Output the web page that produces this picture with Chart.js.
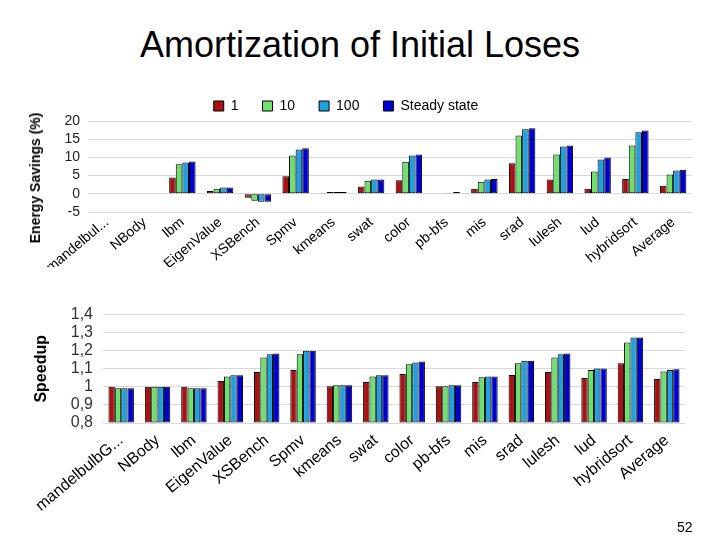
<!DOCTYPE html>
<html>
<head>
<meta charset="utf-8">
<script src="https://cdn.jsdelivr.net/npm/chart.js@4"></script>
<style>
  body { margin: 0; background: #fff; font-family: "Liberation Sans", Arial, sans-serif; }
  #page { position: relative; width: 720px; height: 540px; overflow: hidden; }
  #title { position: absolute; left: 0; top: 24px; width: 720px; text-align: center; font-size: 36px; color: #000; }
  #top-box { position: absolute; left: 0; top: 75px; width: 720px; height: 192px; }
  #bottom-box { position: absolute; left: 0; top: 295px; width: 720px; height: 240px; }
  #pagenum { position: absolute; left: 677px; top: 519px; font-size: 14px; color: #000; }
  #energy-title { position: absolute; left: 35px; top: 178px; font-size: 14px; font-weight: bold; color: #000;
    white-space: nowrap; transform: translate(-50%, -50%) rotate(-90deg); }
</style>
</head>
<body>
<div id="page">
  <div id="title">Amortization of Initial Loses</div>
  <div id="top-box"><canvas id="energy"></canvas></div>
  <div id="bottom-box"><canvas id="speedup"></canvas></div>
  <div id="energy-title">Energy Savings (%)</div>
  <div id="pagenum">52</div>
</div>
<script>
const seriesNames = ['1', '10', '100', 'Steady state'];
const seriesColors = ['#AA1111', '#6EE06E', '#20A0E0', '#0000D2'];

const energyLabels = ['mandelbul...', 'NBody', 'lbm', 'EigenValue', 'XSBench', 'Spmv', 'kmeans', 'swat',
  'color', 'pb-bfs', 'mis', 'srad', 'lulesh', 'lud', 'hybridsort', 'Average'];
const speedupLabels = ['mandelbulbG...', 'NBody', 'lbm', 'EigenValue', 'XSBench', 'Spmv', 'kmeans', 'swat',
  'color', 'pb-bfs', 'mis', 'srad', 'lulesh', 'lud', 'hybridsort', 'Average'];

// energy savings (%)
const energy1 = [-0.1, 0, 4.5, 0.8, -1.1, 4.8, 0.3, 2.0, 3.7, 0, 1.4, 8.4, 3.9, 1.4, 4.1, 2.2];
const energy10 = [-0.1, 0, 8.1, 1.4, -1.9, 10.5, 0.5, 3.6, 8.8, 0.1, 3.3, 16.0, 10.8, 6.1, 13.3, 5.3];
const energy100 = [-0.1, 0, 8.6, 1.7, -2.2, 12.2, 0.5, 3.9, 10.5, 0.3, 3.9, 17.7, 13.0, 9.4, 16.9, 6.4];
const energySteady = [-0.1, 0, 8.9, 1.7, -2.2, 12.5, 0.5, 3.9, 10.8, 0.5, 4.1, 18.0, 13.3, 10.0, 17.4, 6.6];

// speedup
const speedup1 = [1.0, 1.0, 1.0, 1.033, 1.082, 1.093, 1.004, 1.027, 1.071, 1.004, 1.027, 1.065, 1.082, 1.049, 1.131, 1.044];
const speedup10 = [0.993, 1.0, 0.993, 1.058, 1.162, 1.18, 1.009, 1.058, 1.125, 1.004, 1.053, 1.131, 1.162, 1.093, 1.245, 1.085];
const speedup100 = [0.993, 1.0, 0.993, 1.064, 1.18, 1.2, 1.009, 1.064, 1.135, 1.009, 1.058, 1.145, 1.18, 1.102, 1.273, 1.093];
const speedupSteady = [0.993, 1.0, 0.993, 1.064, 1.185, 1.2, 1.009, 1.064, 1.14, 1.009, 1.058, 1.145, 1.185, 1.102, 1.273, 1.098];

Chart.defaults.font.family = '"Liberation Sans", Arial, sans-serif';
Chart.defaults.color = '#222';
Chart.defaults.animation = false;

function makeSets(lists, base) {
  return lists.map((d, i) => ({
    label: seriesNames[i],
    data: d,
    backgroundColor: seriesColors[i],
    borderColor: '#000',
    borderWidth: 1,
    borderSkipped: false,
    categoryPercentage: 0.7,
    barPercentage: 1.0,
    base: base
  }));
}

// fixed legend height so the plot top lands where the original has it
const legendHeight = {
  id: 'legendHeight',
  beforeInit(chart) {
    const fit = chart.legend.fit;
    chart.legend.fit = function () {
      fit.bind(chart.legend)();
      this.height = 46;
    };
  }
};

const ctx_energy = document.getElementById('energy');
const ctx_speedup = document.getElementById('speedup');

new Chart(ctx_energy, {
  type: 'bar',
  data: {
    labels: energyLabels,
    datasets: makeSets([energy1, energy10, energy100, energySteady], 0)
  },
  plugins: [legendHeight],
  options: {
    responsive: true,
    maintainAspectRatio: false,
    layout: { padding: { left: 0, right: 28, top: 0, bottom: 0 } },
    plugins: {
      legend: {
        display: true,
        position: 'top',
        labels: { boxWidth: 10, boxHeight: 10, padding: 24, font: { size: 14 }, color: '#000' }
      },
      tooltip: { enabled: false }
    },
    scales: {
      x: {
        grid: { display: false },
        border: { display: false },
        ticks: { font: { size: 14 }, color: '#000', minRotation: 40, maxRotation: 40, padding: -6, autoSkip: false },
        afterFit: (s) => { s.height = 55; }
      },
      y: {
        min: -5,
        max: 20,
        ticks: { stepSize: 5, autoSkip: false, font: { size: 14 }, color: '#222', padding: 8 },
        grid: { color: '#d9d9d9', drawTicks: false },
        border: { display: false },
        afterFit: (s) => { s.width = 88; }
      }
    }
  }
});

new Chart(ctx_speedup, {
  type: 'bar',
  data: {
    labels: speedupLabels,
    datasets: makeSets([speedup1, speedup10, speedup100, speedupSteady], 0.8)
  },
  options: {
    responsive: true,
    maintainAspectRatio: false,
    layout: { padding: { left: 0, right: 35, top: 13, bottom: 0 } },
    plugins: {
      legend: { display: false },
      tooltip: { enabled: false }
    },
    scales: {
      x: {
        grid: { display: false },
        border: { display: false },
        ticks: { font: { size: 16 }, color: '#000', minRotation: 40, maxRotation: 40, padding: 0, autoSkip: false },
        afterFit: (s) => { s.height = 112; }
      },
      y: {
        min: 0.8,
        max: 1.4,
        ticks: {
          stepSize: 0.1,
          autoSkip: false,
          font: { size: 16 },
          color: '#333',
          padding: 10,
          callback: (v) => String(Math.round(v * 10) / 10).replace('.', ',')
        },
        grid: { color: '#d9d9d9', drawTicks: false },
        border: { display: false },
        title: { display: true, text: 'Speedup', font: { size: 16, weight: 'bold' }, color: '#000', padding: { top: 32, bottom: 0 } },
        afterFit: (s) => { s.width = 103; }
      }
    }
  }
});
</script>
</body>
</html>
